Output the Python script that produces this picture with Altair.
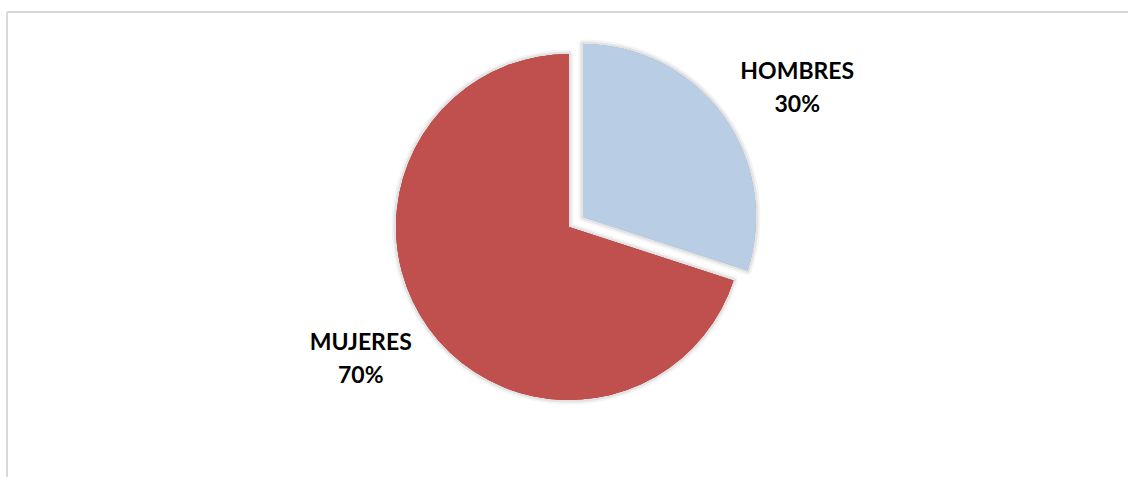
import altair as alt
import pandas as pd

categories = ["HOMBRES", "MUJERES"]
values = [30, 70]
colors = ["#B9CDE5", "#C0504D"]

df = pd.DataFrame({"cat": categories, "val": values})

base = alt.Chart(df).transform_window(
    cum="sum(val)", sort=[alt.SortField("cat")], frame=[None, 0]
).transform_joinaggregate(total="sum(val)").transform_calculate(
    start="100 * (datum.cum - datum.val) / datum.total",
    end="100 * datum.cum / datum.total",
    mid="100 * (datum.cum - datum.val / 2) / datum.total",
    label="datum.cat + '\\n' + format(datum.val / datum.total, '.0%')",
)

theta_scale = alt.Scale(domain=[0, 100], range=[0, 6.283185307])
color_scale = alt.Scale(domain=categories, range=colors)

W, H = 1121, 465
CX, CY, R = 562, 215, 173

def arc_layer(cat, dx, dy, shadow=None):
    props = dict(radius=R, xOffset=dx, yOffset=dy)
    if shadow:
        props.update(stroke="#000000", strokeWidth=shadow[0], strokeOpacity=shadow[1],
                     strokeJoin="round")
    return base.transform_filter(alt.datum.cat == cat).mark_arc(**props).encode(
        theta=alt.Theta("start:Q", scale=theta_scale),
        theta2="end:Q",
        x=alt.value(CX),
        y=alt.value(CY),
        color=alt.Color("cat:N", scale=color_scale, legend=None),
    )

def text_layer(cat, dx, dy):
    return base.transform_filter(alt.datum.cat == cat).mark_text(
        radius=250, xOffset=dx, yOffset=dy, font="Lato", fontSize=23,
        fontWeight="bold", color="#000000", lineBreak="\n", lineHeight=33,
        align="center", baseline="middle",
    ).encode(
        theta=alt.Theta("mid:Q", scale=theta_scale),
        x=alt.value(CX),
        y=alt.value(CY),
        text="label:N",
    )

frame_top = alt.Chart(df).mark_rule(color="#D9D9D9", strokeWidth=2).encode(
    x=alt.value(0), x2=alt.value(W), y=alt.value(0)
)
frame_left = alt.Chart(df).mark_rule(color="#D9D9D9", strokeWidth=2).encode(
    x=alt.value(0), y=alt.value(0), y2=alt.value(H)
)

layers = [frame_top, frame_left]
for cat, dx, dy in [("MUJERES", 0, 0), ("HOMBRES", 14, -10)]:
    layers.append(arc_layer(cat, dx, dy, shadow=(9, 0.04)))
    layers.append(arc_layer(cat, dx, dy, shadow=(5, 0.07)))
for cat, dx, dy in [("MUJERES", 0, 0), ("HOMBRES", 14, -10)]:
    layers.append(arc_layer(cat, dx, dy))
layers.append(text_layer("HOMBRES", 26, -8))
layers.append(text_layer("MUJERES", -6, -31))

chart = alt.layer(*layers).properties(
    width=W, height=H,
    autosize=alt.AutoSizeParams(type="none"),
    padding={"left": 7, "top": 12, "right": 0, "bottom": 0},
).configure_view(stroke=None).configure(background="#FFFFFF")

chart.save("out.html", embed_options={"renderer": "svg", "actions": False})
